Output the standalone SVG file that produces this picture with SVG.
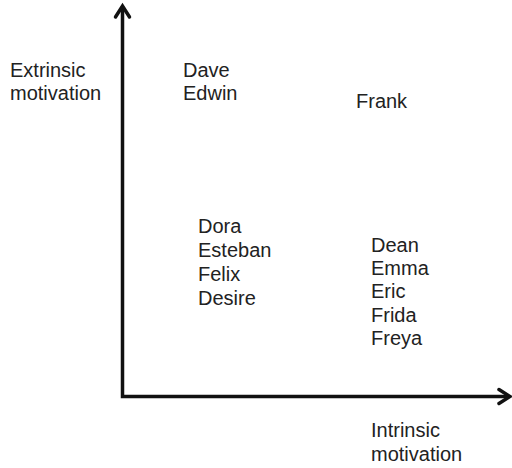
<svg xmlns="http://www.w3.org/2000/svg" width="512" height="468" viewBox="0 0 512 468">
<style>
text{font-family:"Liberation Sans",Arial,sans-serif;font-size:20px;fill:#222}
.axis{stroke:#111;stroke-width:3.5;fill:none}
.head{stroke:#111;stroke-width:3.5;fill:none;stroke-linecap:round;stroke-linejoin:miter}
</style>
<rect width="512" height="468" fill="#fff"/>
<g id="axes">
<path class="axis" d="M122.5,7 V396.5 H509"/>
<path class="head" d="M115.5,17 L122.5,6 L129.5,17"/>
<path class="head" d="M499,389.5 L510,396.5 L499,403.5"/>
</g>
<g id="label-extrinsic"><text x="10" y="77">Extrinsic</text><text x="10" y="100">motivation</text></g>
<g id="label-intrinsic"><text x="371" y="437">Intrinsic</text><text x="371" y="461">motivation</text></g>
<g id="group-dave"><text x="183" y="77">Dave</text><text x="183" y="100">Edwin</text></g>
<g id="group-frank"><text x="356" y="108">Frank</text></g>
<g id="group-dora"><text x="198" y="233">Dora</text><text x="198" y="257">Esteban</text><text x="198" y="281">Felix</text><text x="198" y="305">Desire</text></g>
<g id="group-dean"><text x="371" y="252">Dean</text><text x="371" y="275">Emma</text><text x="371" y="298">Eric</text><text x="371" y="322">Frida</text><text x="371" y="345">Freya</text></g>
</svg>
